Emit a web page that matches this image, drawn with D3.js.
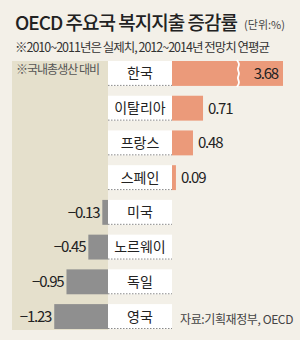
<!DOCTYPE html>
<html>
<head>
<meta charset="utf-8">
<script src="https://cdn.jsdelivr.net/npm/d3@7"></script>
<style>
  html, body { margin: 0; padding: 0; background: #f3f0e8; }
  svg { display: block; font-family: "Noto Sans CJK KR", "Noto Sans", sans-serif; }
</style>
</head>
<body>
<div id="chart"></div>
<script>
// OECD welfare spending growth, % of GDP
const countries = ["한국", "이탈리아", "프랑스", "스페인", "미국", "노르웨이", "독일", "영국"];
const values = [3.68, 0.71, 0.48, 0.09, -0.13, -0.45, -0.95, -1.23];
const valueLabels = ["3.68", "0.71", "0.48", "0.09", "−0.13", "−0.45", "−0.95", "−1.23"];
const breakAt = 1.52;   // where the long bar is cut
const capAt = 2.54;     // drawn length of the cut bar

const width = 300, height = 340;

const svg = d3.select("#chart")
    .append("svg")
    .attr("width", width)
    .attr("height", height);

svg.append("rect")
    .attr("width", width).attr("height", height)
    .attr("fill", "#f3f0e8");

// squeeze / spread a text to a target width with letter-spacing
function fitWidth(sel, target) {
    const w = sel.node().getComputedTextLength();
    const n = sel.text().length;
    sel.style("letter-spacing", ((target - w) / n) + "px");
    return sel;
}

// titles
const title = svg.append("text")
    .attr("x", 15).attr("y", 30)
    .style("font-size", "19px")
    .style("font-weight", 500)
    .style("fill", "#222")
    .text("OECD 주요국 복지지출 증감률");
fitWidth(title, 222);

const unit = svg.append("text")
    .attr("x", 244).attr("y", 29)
    .style("font-size", "11px")
    .style("fill", "#444")
    .text("(단위:%)");
fitWidth(unit, 41);

const sub = svg.append("text")
    .attr("x", 15).attr("y", 52)
    .style("font-size", "12.5px")
    .style("fill", "#333")
    .text("※2010~2011년은 실제치, 2012~2014년 전망치 연평균");
fitWidth(sub, 254);

// scales
const y = d3.scaleBand()
    .domain(countries)
    .range([61, 329])
    .paddingInner(0.283)
    .paddingOuter(0);

const xPos = d3.scaleLinear().domain([0, 1]).range([172, 215.7]);
const xNeg = d3.scaleLinear().domain([0, -1]).range([108, 64.3]);

// beige panel behind negative side
svg.append("rect")
    .attr("x", 12).attr("y", 61)
    .attr("width", 96).attr("height", 269)
    .attr("fill", "#e5e0cc");

const note = svg.append("text")
    .attr("x", 16).attr("y", 74)
    .style("font-size", "12px")
    .style("fill", "#555")
    .text("※국내총생산 대비");
fitWidth(note, 83);

const data = countries.map((c, i) => ({ name: c, value: values[i], label: valueLabels[i] }));

const rows = svg.selectAll(".row")
    .data(data)
    .enter()
    .append("g")
    .attr("class", "row");

// label boxes
rows.append("rect")
    .attr("x", xNeg(0))
    .attr("y", d => y(d.name))
    .attr("width", xPos(0) - xNeg(0))
    .attr("height", y.bandwidth())
    .attr("fill", "#fff");

rows.append("line")
    .attr("x1", xNeg(0)).attr("x2", xPos(0))
    .attr("y1", d => y(d.name) + y.bandwidth() - 0.5)
    .attr("y2", d => y(d.name) + y.bandwidth() - 0.5)
    .attr("stroke", "#8a8a8a")
    .attr("stroke-width", 1)
    .attr("stroke-dasharray", "1.5,1.5");

rows.append("text")
    .attr("x", (xNeg(0) + xPos(0)) / 2)
    .attr("y", d => y(d.name) + y.bandwidth() / 2)
    .attr("dy", "0.36em")
    .attr("text-anchor", "middle")
    .style("font-size", "14px")
    .style("fill", "#222")
    .text(d => d.name);

// bars
rows.append("rect")
    .attr("x", d => d.value >= 0 ? xPos(0) : xNeg(d.value))
    .attr("y", d => y(d.name))
    .attr("width", d => d.value >= 0
        ? xPos(Math.min(d.value, capAt)) - xPos(0)
        : xNeg(0) - xNeg(d.value))
    .attr("height", y.bandwidth())
    .attr("fill", d => d.value >= 0 ? "#eb9a7a" : "#8f8f8f");

// break mark on the cut bar
const cut = data.filter(d => d.value > capAt);
const wave = d3.line().curve(d3.curveBasis);
svg.selectAll(".break")
    .data(cut)
    .enter()
    .append("path")
    .attr("class", "break")
    .attr("d", d => {
        const bx = xPos(breakAt), top = y(d.name), h = y.bandwidth();
        const pts = [];
        for (let k = 0; k <= 6; k++) {
            pts.push([bx + (k % 2 === 0 ? -1.6 : 1.6), top - 1 + k * (h + 2) / 6]);
        }
        return wave(pts);
    })
    .attr("fill", "none")
    .attr("stroke", "#fff")
    .attr("stroke-width", 1.8);

// value labels
rows.append("text")
    .attr("x", d => {
        if (d.value > capAt) return xPos(capAt) - 5;
        return d.value >= 0 ? xPos(d.value) + 5 : xNeg(d.value) - 3;
    })
    .attr("y", d => y(d.name) + y.bandwidth() / 2)
    .attr("dy", "0.36em")
    .attr("text-anchor", d => (d.value < 0 || d.value > capAt) ? "end" : "start")
    .style("font-size", "15px")
    .style("letter-spacing", "-1.2px")
    .style("fill", "#222")
    .text(d => d.label);

// source
const src = svg.append("text")
    .attr("x", 180).attr("y", 324)
    .style("font-size", "12px")
    .style("fill", "#444")
    .text("자료:기획재정부, OECD");
fitWidth(src, 113);
</script>
</body>
</html>
